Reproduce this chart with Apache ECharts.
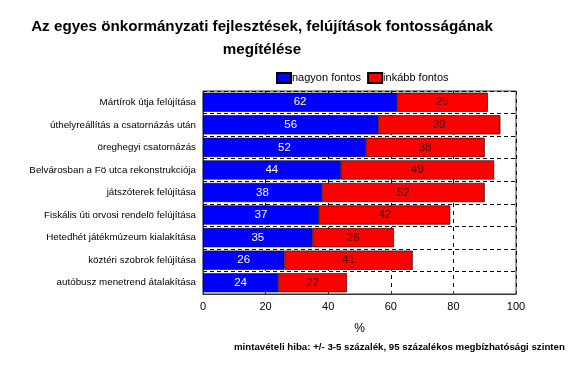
<!DOCTYPE html>
<html>
<head>
<meta charset="utf-8">
<script src="https://cdn.jsdelivr.net/npm/echarts@6/dist/echarts.min.js"></script>
<style>html,body{margin:0;padding:0;background:#fff}#c{width:575px;height:385px}</style>
</head>
<body>
<div id="c"></div>
<script>
const categories = [
  "Mártírok útja felújítása",
  "úthelyreállítás a csatornázás után",
  "öreghegyi csatornázás",
  "Belvárosban a Fö utca rekonstrukciója",
  "játszóterek felújítása",
  "Fiskális úti orvosi rendelö felújítása",
  "Hetedhét játékmúzeum kialakítása",
  "köztéri szobrok felújítása",
  "autóbusz menetrend átalakítása"
];
const nagyonFontos = [62, 56, 52, 44, 38, 37, 35, 26, 24];
const inkabbFontos = [29, 39, 38, 49, 52, 42, 26, 41, 22];
const xTicks = [0, 20, 40, 60, 80, 100];

const chart = echarts.init(document.getElementById('c'), null, {renderer: 'canvas'});
const font = 'Arial, "Liberation Sans", sans-serif';
chart.setOption({
  animation: false,
  backgroundColor: '#fff',
  title: {
    text: 'Az egyes önkormányzati fejlesztések, felújítások fontosságának\nmegítélése',
    left: 257, top: 10, textAlign: 'center',
    textStyle: {fontFamily: font, fontSize: 15.2, fontWeight: 'bold', color: '#000', lineHeight: 23}
  },
  legend: {
    left: 271, top: 67, itemWidth: 14, itemHeight: 10, itemGap: 6,
    icon: 'rect',
    textStyle: {fontFamily: font, fontSize: 11, color: '#000', padding: [0,0,0,-4]},
    data: ['nagyon fontos', 'inkább fontos']
  },
  graphic: [{
    type: 'text', left: 234, top: 342,
    style: {text: 'mintavételi hiba: +/- 3-5 százalék, 95 százalékos megbízhatósági szinten',
      font: 'bold 9.7px Arial, "Liberation Sans", sans-serif', fill: '#000'}
  }],
  grid: {left: 203, right: 59, top: 91, bottom: 91, show: true, borderColor: '#333', borderWidth: 1},
  xAxis: {
    type: 'value', min: 0, max: 100, interval: 20,
    name: '%', nameLocation: 'middle', nameGap: 29,
    nameTextStyle: {fontFamily: font, fontSize: 12, color: '#000'},
    axisLine: {show: true, lineStyle: {color: '#333'}},
    axisTick: {show: true, inside: true, length: 3, lineStyle: {color: '#333'}},
    axisLabel: {fontFamily: font, fontSize: 11, color: '#000', margin: 7,
      formatter: v => xTicks.includes(v) ? String(v) : ''},
    splitLine: {show: true, lineStyle: {color: '#000', type: [4, 4], width: 1}}
  },
  yAxis: {
    type: 'category', data: categories, inverse: true,
    axisLine: {show: true, lineStyle: {color: '#333'}},
    axisTick: {show: false},
    axisLabel: {fontFamily: font, fontSize: 9.8, color: '#000', margin: 7},
    splitLine: {show: true, interval: 0, lineStyle: {color: '#000', type: [4, 3], width: 1}}
  },
  series: [{
    name: 'nagyon fontos', type: 'bar', stack: 's', data: nagyonFontos, barWidth: '85%',
    itemStyle: {color: '#0000ff', borderColor: '#000', borderWidth: 0.6},
    label: {show: true, position: 'inside', color: '#fff', fontFamily: font, fontSize: 11.5}
  }, {
    name: 'inkább fontos', type: 'bar', stack: 's', data: inkabbFontos, barWidth: '85%',
    itemStyle: {color: '#ff0000', borderColor: '#000', borderWidth: 0.6},
    label: {show: true, position: 'inside', color: '#3a0000', fontFamily: font, fontSize: 11.5}
  }]
});
</script>
</body>
</html>
